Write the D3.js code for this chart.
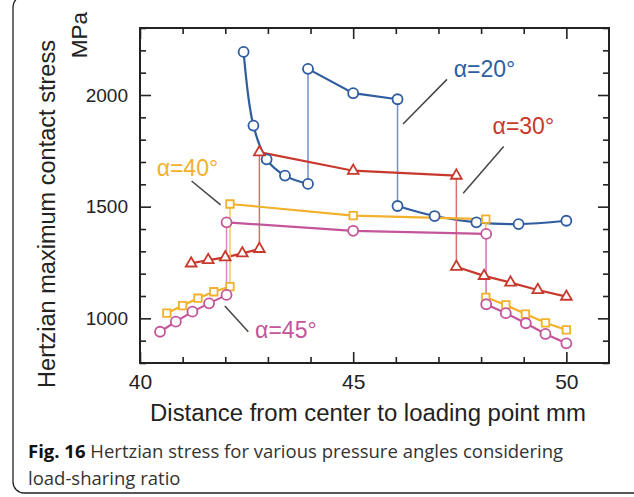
<!DOCTYPE html>
<html><head><meta charset="utf-8">
<script src="https://cdn.jsdelivr.net/npm/d3@7"></script>
<style>body{margin:0;background:#fff} svg{display:block}</style>
</head><body><svg id="c" width="634" height="497"></svg>
<script>
// ---- data ----
const labels = ["α=20°", "α=30°", "α=40°", "α=45°"];
const x20 = [42.43, 42.66, 42.97, 43.40, 43.94, 43.94, 45.00, 46.04, 46.04, 46.91, 47.89, 48.88, 50.00];
const y20 = [2193, 1863, 1712, 1639, 1602, 2117, 2008, 1981, 1503, 1458, 1430, 1422, 1437];
const x30 = [41.2, 41.6, 42.0, 42.4, 42.8, 42.8, 45.0, 47.42, 47.42, 48.07, 48.69, 49.33, 50.0];
const y30 = [1246, 1261, 1273, 1291, 1311, 1744, 1661, 1639, 1231, 1190, 1160, 1127, 1097];
const x40 = [40.63, 41.0, 41.36, 41.73, 42.11, 42.11, 45.0, 48.11, 48.11, 48.58, 49.04, 49.51, 50.0];
const y40 = [1023, 1057, 1090, 1119, 1142, 1512, 1460, 1444, 1094, 1060, 1019, 980, 948];
const x45 = [40.47, 40.84, 41.23, 41.62, 42.03, 42.03, 45.0, 48.12, 48.12, 48.58, 49.05, 49.51, 50.0];
const y45 = [940, 985, 1030, 1067, 1105, 1430, 1392, 1378, 1063, 1023, 978, 930, 888];
const xTickLabels = [40, 45, 50];
const yTickLabels = [1000, 1500, 2000];
const xTitle = "Distance from center to loading point mm";
const yTitle = "Hertzian maximum contact stress";
const yUnit = "MPa";
const captionBold = "Fig. 16";
const captionRest = " Hertzian stress for various pressure angles considering";
const captionLine2 = "load-sharing ratio";
// annotation anchors (data units): text position, leader from, leader to
const annText = [[47.36, 2081], [48.27, 1825], [40.39, 1637], [42.70, 912]];
const annFrom = [[47.20, 2070], [48.53, 1769], [41.21, 1615], [41.99, 1055]];
const annTo = [[46.17, 1870], [47.58, 1560], [41.89, 1508], [42.54, 940]];

// ---- styles ----
const colors = ["#2f5d9f", "#c9382d", "#f2b02b", "#c4559a"];
const vColors = ["#6f8fc6", "#d9706a", "#f5c55f", "#d88bbd"];
const symbols = ["circle", "triangle", "square", "circle"];
const smooth = [true, false, false, false];
const FONT = "'Liberation Sans', Arial, sans-serif";

const svg = d3.select("#c");
const x = d3.scaleLinear().domain([40, 51]).range([140, 609]);
const y = d3.scaleLinear().domain([800, 2300]).range([363, 28]);

// panel border (rounded)
svg.append("rect").attr("x", 13).attr("y", -4).attr("width", 700).attr("height", 497)
  .attr("rx", 11).attr("fill", "none").attr("stroke", "#222").attr("stroke-width", 1.3);

// axes
const g = svg.append("g");
function mkAxis(axisFn, vals, size, fmt) {
  return axisFn.tickValues(vals).tickSizeInner(size).tickSizeOuter(0).tickFormat(fmt);
}
const xMinor = d3.range(40, 51, 1).filter(v => !xTickLabels.includes(v));
const yMinor = d3.range(800, 2301, 100).filter(v => !yTickLabels.includes(v));
const noFmt = () => "";
function drawAxis(axis, transform) {
  const a = g.append("g").attr("transform", transform).call(axis);
  a.select(".domain").remove();
  a.selectAll("line").attr("stroke", "#222").attr("stroke-width", 1.6);
  a.selectAll("text").attr("font-family", FONT).attr("fill", "#222");
  return a;
}
drawAxis(mkAxis(d3.axisBottom(x), xMinor, -6, noFmt), `translate(0,${y.range()[0]})`);
drawAxis(mkAxis(d3.axisBottom(x), xTickLabels, -11, d3.format("d")).tickPadding(11), `translate(0,${y.range()[0]})`)
  .selectAll("text").attr("font-size", 21);
drawAxis(mkAxis(d3.axisTop(x), xMinor, -6, noFmt), `translate(0,${y.range()[1]})`);
drawAxis(mkAxis(d3.axisTop(x), xTickLabels, -11, noFmt), `translate(0,${y.range()[1]})`);
drawAxis(mkAxis(d3.axisLeft(y), yMinor, -6, noFmt), `translate(${x.range()[0]},0)`);
drawAxis(mkAxis(d3.axisLeft(y), yTickLabels, -11, d3.format("d")).tickPadding(12), `translate(${x.range()[0]},0)`)
  .selectAll("text").attr("font-size", 19);
drawAxis(mkAxis(d3.axisRight(y), yMinor, -6, noFmt), `translate(${x.range()[1]},0)`);
drawAxis(mkAxis(d3.axisRight(y), yTickLabels, -11, noFmt), `translate(${x.range()[1]},0)`);

// frame
g.append("rect").attr("x", x.range()[0]).attr("y", y.range()[1])
  .attr("width", x.range()[1] - x.range()[0]).attr("height", y.range()[0] - y.range()[1])
  .attr("fill", "none").attr("stroke", "#222").attr("stroke-width", 2);

// series
const allX = [x20, x30, x40, x45], allY = [y20, y30, y40, y45];
const lineLin = d3.line().x(d => x(d[0])).y(d => y(d[1]));
const lineSmooth = d3.line().x(d => x(d[0])).y(d => y(d[1])).curve(d3.curveCatmullRom.alpha(0.5));
const plot = svg.append("g");
allX.forEach((xs, si) => {
  const pts = xs.map((v, i) => [v, allY[si][i]]);
  const segs = [[pts[0]]];
  const verts = [];
  for (let i = 1; i < pts.length; i++) {
    if (pts[i][0] === pts[i - 1][0]) { verts.push([pts[i - 1], pts[i]]); segs.push([pts[i]]); }
    else segs[segs.length - 1].push(pts[i]);
  }
  verts.forEach(v => plot.append("line")
    .attr("x1", x(v[0][0])).attr("y1", y(v[0][1])).attr("x2", x(v[1][0])).attr("y2", y(v[1][1]))
    .attr("stroke", vColors[si]).attr("stroke-width", 1.5));
  segs.forEach(s => plot.append("path")
    .attr("d", (smooth[si] && s.length >= 4) ? lineSmooth(s) : lineLin(s)).attr("fill", "none")
    .attr("stroke", colors[si]).attr("stroke-width", 2.2));
});
allX.forEach((xs, si) => {
  const pts = xs.map((v, i) => [v, allY[si][i]]);
  const sel = plot.append("g").selectAll("path").data(pts).join("path")
    .attr("transform", d => `translate(${x(d[0])},${y(d[1])})`)
    .attr("fill", "#fff").attr("stroke", colors[si]).attr("stroke-width", 1.8);
  if (symbols[si] === "circle") sel.attr("d", d3.symbol(d3.symbolCircle, Math.PI * 25)());
  else if (symbols[si] === "triangle") sel.attr("d", d3.symbol(d3.symbolTriangle, 50)());
  else sel.attr("d", d3.symbol(d3.symbolSquare, 56)());
});

// annotations
labels.forEach((t, i) => {
  plot.append("line").attr("x1", x(annFrom[i][0])).attr("y1", y(annFrom[i][1]))
    .attr("x2", x(annTo[i][0])).attr("y2", y(annTo[i][1]))
    .attr("stroke", "#444").attr("stroke-width", 1.5);
  plot.append("text").attr("x", x(annText[i][0])).attr("y", y(annText[i][1]))
    .attr("font-family", FONT).attr("font-size", 23).attr("fill", colors[i]).text(t);
});

// fit helper
function fit(sel, target) {
  const fs = +sel.attr("font-size");
  const w = sel.node().getComputedTextLength();
  sel.attr("font-size", (fs * target / w).toFixed(2));
}
// titles
const xt = svg.append("text").attr("x", 368).attr("y", 421).attr("text-anchor", "middle")
  .attr("font-family", FONT).attr("font-size", 23).attr("fill", "#222").text(xTitle);
fit(xt, 436);
const yt = svg.append("text").attr("transform", "translate(55,214) rotate(-90)").attr("text-anchor", "middle")
  .attr("font-family", FONT).attr("font-size", 23).attr("fill", "#222").text(yTitle);
fit(yt, 348);
svg.append("text").attr("transform", "translate(87,35) rotate(-90)").attr("text-anchor", "middle")
  .attr("font-family", FONT).attr("font-size", 22.5).attr("fill", "#222").text(yUnit);

// caption
const CF = "'Open Sans', 'Noto Sans', sans-serif";
const cap = svg.append("text").attr("x", 28).attr("y", 458).attr("font-family", CF)
  .attr("font-size", 18).attr("fill", "#333");
cap.append("tspan").attr("font-weight", "bold").attr("fill", "#111").text(captionBold);
cap.append("tspan").text(captionRest);
fit(cap, 535);
svg.append("text").attr("x", 28).attr("y", 485).attr("font-family", CF)
  .attr("font-size", cap.attr("font-size")).attr("fill", "#333").text(captionLine2);
</script></body></html>
